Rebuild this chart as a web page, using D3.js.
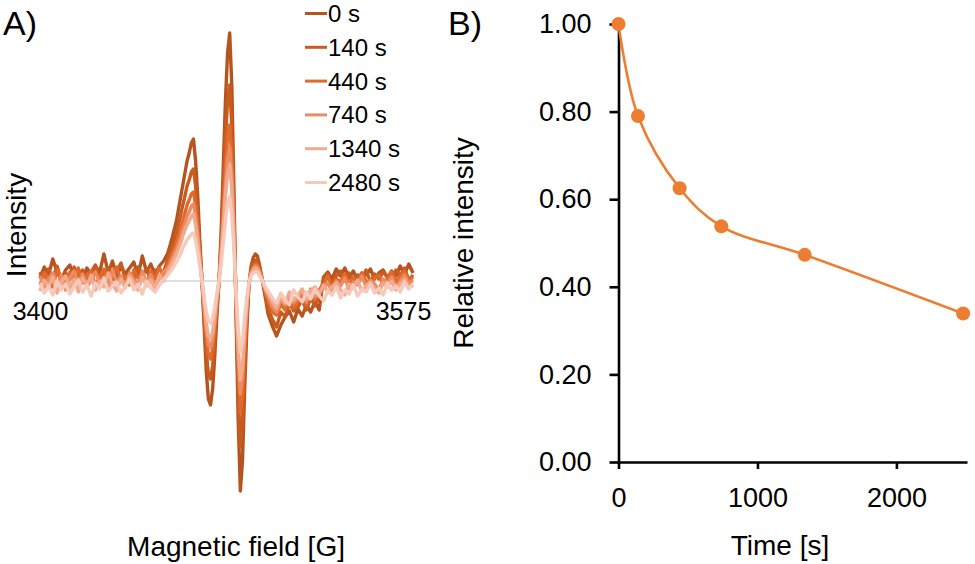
<!DOCTYPE html>
<html>
<head>
<meta charset="utf-8">
<script src="https://cdn.jsdelivr.net/npm/d3@7/dist/d3.min.js"></script>
<style>
body { margin: 0; background: #fff; }
svg { display: block; font-family: "Liberation Sans", Arial, sans-serif; }
</style>
</head>
<body>
<div id="chart"></div>
<script>
// Panel A: EPR spectra (field in G, intensity in arbitrary units)
var field = [3400,3402,3404,3406,3408,3410,3412,3414,3416,3418,3420,3422,3424,3426,3428,3430,3432,3434,3436,3438,3440,3442,3444,3446,3448,3450,3452,3454,3456,3458,3460,3462,3464,3466,
  3467,3468,3469,3470,3471,3472,3473,3474,3475,3476,3477,3478,3479,3480,3481,3482,3483,3484,3485,3486,3487,3488,3489,3490,3491,3492,3493,3494,3495,3496,3497,3498,3499,3500,3501,3502,3503,3504,3505,3506,
  3507,3509,3511,3513,3515,3517,3519,3521,3523,3525,3527,3529,3531,3533,3535,3537,3539,3541,3543,3545,3547,3549,3551,3553,3555,3557,3559,3561,3563,3565,3567,3569,3571,3573,3575];

var spec0 = [3,14,6,22,9,1,11,16,4,10,2,13,6,15,9,27,8,20,4,15,7,13,19,5,25,9,17,6,15,20,28,43,60,84,
  96,108,120,128,138,142,120,85,40,0,-45,-90,-118,-124,-108,-75,-35,0,50,115,180,228,248,195,90,-35,-140,-210,-180,-110,-50,-5,14,23,27,25,16,5,-8,-20,
  -33,-45,-55,-44,-36,-30,-41,-28,-35,-24,-31,-20,-29,4,9,2,12,5,13,3,10,1,8,6,12,2,8,11,3,10,5,15,6,17,8];
var spec140 = [9,-1,12,3,15,0,8,2,14,5,11,-2,9,16,3,7,13,1,10,18,2,8,-1,14,6,12,0,11,4,9,22,34,48,66,
  76,85,95,101,109,112,95,67,32,0,-36,-71,-93,-98,-85,-59,-28,0,40,91,142,180,196,154,71,-28,-111,-166,-142,-87,-40,-4,11,18,21,20,13,4,-6,-16,
  -27,-38,-46,-31,-36,-22,-30,-26,-19,-29,-17,-25,-15,1,7,-2,5,10,0,8,-3,6,3,11,-1,7,2,9,4,-2,11,5,13,1,6];
var spec440 = [-4,8,1,-6,11,4,-3,9,0,13,-2,6,10,-5,4,12,-1,7,14,0,5,-4,11,3,8,-3,10,2,13,6,17,27,38,52,
  60,68,76,81,87,89,76,54,25,0,-28,-57,-74,-78,-68,-47,-22,0,32,72,113,144,156,123,57,-22,-88,-132,-113,-69,-32,-3,9,14,17,16,10,3,-5,-13,
  -20,-31,-34,-23,-29,-17,-27,-20,-14,-24,-12,-19,-9,-3,5,-6,2,-1,7,-4,4,-2,8,0,-5,3,6,-3,2,9,-1,5,10,0,4];
var spec740 = [5,-7,2,8,-4,6,-9,3,10,-3,7,-6,1,9,-2,4,-8,11,-1,5,-6,8,2,-4,10,-2,6,-5,3,9,13,22,32,44,
  52,58,65,69,75,77,65,46,22,0,-24,-49,-64,-67,-58,-41,-19,0,27,62,97,123,134,105,49,-19,-76,-113,-97,-59,-27,-3,8,12,15,14,9,3,-4,-11,
  -15,-26,-31,-18,-24,-13,-22,-17,-10,-21,-8,-16,-11,-7,-2,-10,0,-5,3,-8,-1,-4,5,-6,1,-3,-9,2,-2,4,-6,0,6,-3,1];
var spec1340 = [-10,1,-6,4,-12,-1,5,-8,2,-11,3,-4,6,-9,0,-6,8,-3,-10,2,-7,5,-2,-9,4,-5,1,-8,6,0,10,18,27,38,
  45,51,56,60,65,67,56,40,19,0,-21,-42,-55,-58,-51,-35,-16,0,24,54,85,107,117,92,42,-16,-66,-99,-85,-52,-24,-2,7,11,13,12,8,2,-4,-9,
  -13,-21,-27,-15,-22,-11,-19,-14,-8,-18,-10,-6,-13,-4,-11,-6,-2,-9,-14,-3,-7,1,-10,-5,-1,-8,-12,-2,-6,0,-9,-3,2,-7,-4];
var spec2480 = [-2,-12,-5,-14,0,-9,-3,-13,-6,1,-11,-4,-15,-2,-8,3,-10,-5,-1,-12,-6,2,-9,-3,-13,0,-7,-11,-4,1,6,12,19,27,
  33,37,41,44,47,48,41,29,14,0,-15,-31,-40,-42,-37,-26,-12,0,17,39,61,78,84,66,31,-12,-48,-71,-61,-37,-17,-2,5,8,9,9,5,2,-3,-7,
  -10,-17,-22,-12,-19,-24,-9,-16,-21,-11,-18,-8,-15,-20,-10,-14,-6,-17,-9,-13,-4,-15,-8,-11,-3,-12,-7,-14,-2,-9,-5,-11,-1,-8,-3];

var legendLabels = ['0 s','140 s','440 s','740 s','1340 s','2480 s'];
var spectra = [spec0, spec140, spec440, spec740, spec1340, spec2480];
var specColors = ['#b5541f','#c85b1e','#e0692b','#ec8b62','#f1aa8e','#f6cabb'];
var fieldTicks = [3400, 3575];

// Panel B: decay of relative intensity
var timeS = [0, 140, 440, 740, 1340, 2480];
var relInt = [1.00, 0.79, 0.625, 0.538, 0.473, 0.339];
var yTicksB = [0, 0.2, 0.4, 0.6, 0.8, 1.0];
var xTicksB = [0, 1000, 2000];
var orange = '#ed7d31';

var W = 975, H = 564;
var svg = d3.select('#chart').append('svg')
              .attr('width', W)
              .attr('height', H);

// ---------- panel A ----------
var xA = d3.scaleLinear().domain([3400, 3575]).range([40, 413]);
var yA = d3.scaleLinear().domain([-250, 270]).range([531, 11]);

var gA = svg.append('g');

gA.append('line')
    .attr('x1', xA(3400)).attr('x2', xA(3575))
    .attr('y1', yA(0)).attr('y2', yA(0))
    .attr('stroke', '#c0c0c0')
    .attr('stroke-width', 1);

var specLine = d3.line()
                  .x(function(d, i){ return xA(field[i]); })
                  .y(function(d){ return yA(d); });

gA.selectAll('path.spec')
    .data(spectra)
    .enter()
    .append('path')
    .attr('class', 'spec')
    .attr('d', specLine)
    .attr('fill', 'none')
    .attr('stroke', function(d, i){ return specColors[i]; })
    .attr('stroke-width', 3.4)
    .attr('stroke-linejoin', 'round');

// field end labels (Excel style, no ticks)
var axA = gA.append('g')
    .attr('transform', 'translate(0,' + yA(0) + ')')
    .call(d3.axisBottom(xA).tickValues(fieldTicks).tickSize(0).tickPadding(21).tickFormat(d3.format('d')));
axA.select('.domain').remove();
axA.selectAll('text')
    .attr('font-size', 25)
    .attr('font-family', '"Liberation Sans", Arial, sans-serif')
    .attr('fill', '#000')
    .attr('dx', function(d){ return d === 3400 ? 0 : -10; });

// legend
var leg = gA.selectAll('g.leg')
    .data(legendLabels)
    .enter()
    .append('g')
    .attr('class', 'leg')
    .attr('transform', function(d, i){ return 'translate(305,' + (13.5 + i * 33.8) + ')'; });
leg.append('line')
    .attr('x1', 0).attr('x2', 22)
    .attr('stroke', function(d, i){ return specColors[i]; })
    .attr('stroke-width', 3);
leg.append('text')
    .attr('x', 23)
    .attr('y', 8.5)
    .attr('font-size', 24)
    .text(function(d){ return d; });

svg.append('text')
    .attr('x', 3).attr('y', 35)
    .attr('font-size', 34)
    .text('A)');

svg.append('text')
    .attr('transform', 'translate(26,225) rotate(-90)')
    .attr('text-anchor', 'middle')
    .attr('font-size', 28)
    .text('Intensity');

svg.append('text')
    .attr('x', 236).attr('y', 556)
    .attr('text-anchor', 'middle')
    .attr('font-size', 28)
    .text('Magnetic field [G]');

// ---------- panel B ----------
var xB = d3.scaleLinear().domain([0, 2508]).range([618.5, 967]);
var yB = d3.scaleLinear().domain([0, 1]).range([462, 24]);

var gB = svg.append('g');

var axX = gB.append('g')
    .attr('transform', 'translate(0,' + yB(0) + ')')
    .call(d3.axisBottom(xB).tickValues(xTicksB).tickSize(7).tickSizeOuter(0).tickPadding(19).tickFormat(d3.format('d')));
var axY = gB.append('g')
    .attr('transform', 'translate(' + xB(0) + ',0)')
    .call(d3.axisLeft(yB).tickValues(yTicksB).tickSize(9).tickSizeOuter(0).tickPadding(18).tickFormat(d3.format('.2f')));

[axX, axY].forEach(function(ax){
    ax.select('.domain').attr('stroke', '#000').attr('stroke-width', 2.6);
    ax.selectAll('.tick line').attr('stroke', '#000').attr('stroke-width', 2.6);
    ax.selectAll('.tick text')
        .attr('font-size', 27)
        .attr('font-family', '"Liberation Sans", Arial, sans-serif')
        .attr('fill', '#000');
});

var decayLine = d3.line()
                   .x(function(d, i){ return xB(timeS[i]); })
                   .y(function(d){ return yB(d); })
                   .curve(d3.curveCatmullRom);

gB.append('path')
    .datum(relInt)
    .attr('d', decayLine)
    .attr('fill', 'none')
    .attr('stroke', orange)
    .attr('stroke-width', 2.6);

gB.selectAll('circle')
    .data(relInt)
    .enter()
    .append('circle')
    .attr('cx', function(d, i){ return xB(timeS[i]); })
    .attr('cy', function(d){ return yB(d); })
    .attr('r', 7)
    .attr('fill', orange);

svg.append('text')
    .attr('x', 448).attr('y', 35)
    .attr('font-size', 34)
    .text('B)');

svg.append('text')
    .attr('transform', 'translate(473,243) rotate(-90)')
    .attr('text-anchor', 'middle')
    .attr('font-size', 28)
    .text('Relative intensity');

svg.append('text')
    .attr('x', 780).attr('y', 555)
    .attr('text-anchor', 'middle')
    .attr('font-size', 28)
    .text('Time [s]');
</script>
</body>
</html>
